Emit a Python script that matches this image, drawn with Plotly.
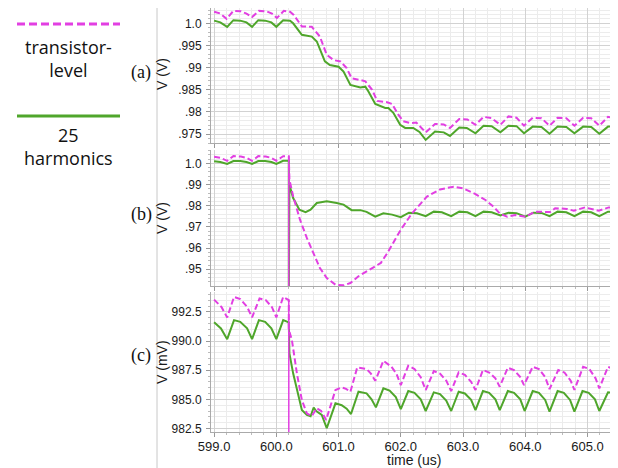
import plotly.graph_objects as go

# ---------------- data ----------------
# time in microseconds
x_ticks = [599.0, 600.0, 601.0, 602.0, 603.0, 604.0, 605.0]
x_labels = ["599.0", "600.0", "601.0", "602.0", "603.0", "604.0", "605.0"]

# panel (a)  V (V)
a_ticks = [0.975, 0.98, 0.985, 0.99, 0.995, 1.0]
a_labels = [".975", ".98", ".985", ".99", ".995", "1.0"]
a_t_green = [599.0, 599.1, 599.21, 599.31, 599.42, 599.52, 599.61, 599.71, 599.82, 599.92,
             600.0, 600.11, 600.22, 600.27, 600.41, 600.57, 600.65, 600.78, 600.86, 601.0,
             601.08, 601.19, 601.35, 601.43, 601.48, 601.59, 601.75, 601.8, 601.88, 601.99,
             602.07, 602.2, 602.3, 602.40, 602.55, 602.69, 602.79, 602.94, 603.06, 603.20,
             603.33, 603.46, 603.60, 603.73, 603.86, 603.98, 604.12, 604.26, 604.39, 604.52,
             604.66, 604.79, 604.93, 605.06, 605.19, 605.33, 605.42]
a_v_green = [1.0006, 1.0002, 0.9992, 1.0007, 1.0006, 1.0002, 0.9992, 1.0007, 1.0006, 1.0002,
             0.9992, 1.0007, 1.0006, 1.0000, 0.9974, 0.9970, 0.9959, 0.9914, 0.9906, 0.9902,
             0.9891, 0.9861, 0.9855, 0.9857, 0.9846, 0.9818, 0.9809, 0.9809, 0.9798, 0.9771,
             0.9764, 0.9764, 0.9755, 0.9737, 0.9756, 0.9754, 0.9746, 0.9765, 0.9764, 0.9752,
             0.9769, 0.9768, 0.9754, 0.9769, 0.9768, 0.9752, 0.9767, 0.9766, 0.9751, 0.9767,
             0.9766, 0.9752, 0.9767, 0.9766, 0.9751, 0.9767, 0.9767]
a_t_mag = [599.0, 599.1, 599.2, 599.31, 599.43, 599.52, 599.61, 599.72, 599.84, 599.93,
           600.01, 600.12, 600.22, 600.28, 600.41, 600.57, 600.70, 600.81, 600.92, 601.03,
           601.13, 601.21, 601.35, 601.43, 601.54, 601.62, 601.78, 601.86, 601.96, 602.04,
           602.15, 602.25, 602.40, 602.55, 602.69, 602.79, 602.94, 603.07, 603.20, 603.33,
           603.46, 603.60, 603.73, 603.86, 603.98, 604.12, 604.26, 604.39, 604.52, 604.66,
           604.79, 604.93, 605.06, 605.19, 605.33, 605.42]
a_v_mag = [1.0026, 1.0022, 1.0010, 1.0028, 1.0027, 1.0022, 1.0014, 1.0028, 1.0027, 1.0022,
           1.0012, 1.0028, 1.0026, 1.0019, 0.9993, 0.9992, 0.9970, 0.9929, 0.9917, 0.9914,
           0.9899, 0.9876, 0.9872, 0.9869, 0.9850, 0.9825, 0.9822, 0.9818, 0.9794, 0.9779,
           0.9775, 0.9776, 0.9754, 0.9773, 0.9772, 0.9764, 0.9784, 0.9783, 0.9771, 0.9789,
           0.9786, 0.9771, 0.9790, 0.9787, 0.9769, 0.9787, 0.9786, 0.9769, 0.9787, 0.9786,
           0.9769, 0.9787, 0.9786, 0.9769, 0.9789, 0.9787]

# panel (b)  V (V)
b_ticks = [0.95, 0.96, 0.97, 0.98, 0.99, 1.0]
b_labels = [".95", ".96", ".97", ".98", ".99", "1.0"]
b_t_green = [599.0, 599.1, 599.21, 599.31, 599.42, 599.52, 599.61, 599.71, 599.82, 599.92,
             600.0, 600.11, 600.2, 600.2, 600.21, 600.27, 600.37, 600.47, 600.55, 600.65,
             600.81, 600.97, 601.08, 601.21, 601.35, 601.45, 601.59, 601.72, 601.86, 602.0,
             602.13, 602.26, 602.40, 602.53, 602.66, 602.81, 602.94, 603.07, 603.20, 603.33,
             603.46, 603.60, 603.73, 603.86, 604.0, 604.13, 604.26, 604.39, 604.52, 604.66,
             604.79, 604.93, 605.06, 605.19, 605.33, 605.42]
b_v_green = [1.0010, 1.0006, 0.9997, 1.0011, 1.0011, 1.0006, 0.9997, 1.0011, 1.0011, 1.0006,
             0.9997, 1.0012, 1.0012, 0.9300, 0.9899, 0.9836, 0.9781, 0.9770, 0.9781, 0.9813,
             0.9821, 0.9813, 0.9805, 0.9779, 0.9779, 0.9771, 0.9748, 0.9764, 0.9758, 0.9746,
             0.9767, 0.9764, 0.9751, 0.9772, 0.9769, 0.9751, 0.9772, 0.9769, 0.9751, 0.9772,
             0.9769, 0.9754, 0.9767, 0.9765, 0.9748, 0.9767, 0.9766, 0.9751, 0.9772, 0.9769,
             0.9751, 0.9772, 0.9769, 0.9751, 0.9772, 0.9772]
b_t_mag = [599.0, 599.1, 599.21, 599.31, 599.43, 599.52, 599.61, 599.71, 599.83, 599.92,
           600.0, 600.11, 600.2, 600.21, 600.27, 600.38, 600.49, 600.60, 600.70,
           600.81, 600.95, 601.08, 601.19, 601.32, 601.45, 601.59, 601.68, 601.78, 601.90,
           602.0, 602.18, 602.42, 602.63, 602.85, 603.0, 603.20, 603.36, 603.49, 603.60,
           603.71, 603.84, 604.0, 604.16, 604.35, 604.40, 604.48, 604.67, 604.78, 604.96,
           605.18, 605.34, 605.42]
b_v_mag = [1.0031, 1.0026, 1.0012, 1.0034, 1.0032, 1.0026, 1.0012, 1.0034, 1.0032, 1.0026,
           1.0012, 1.0034, 1.0034, 0.9923, 0.9845, 0.9734, 0.9648, 0.9569, 0.9506,
           0.9459, 0.9427, 0.9424, 0.9435, 0.9467, 0.9491, 0.9514, 0.9530, 0.9575, 0.9635,
           0.9687, 0.9764, 0.9843, 0.9877, 0.9890, 0.9882, 0.9855, 0.9827, 0.9795, 0.9761,
           0.9748, 0.9756, 0.9748, 0.9772, 0.9772, 0.9770, 0.9788, 0.9785, 0.9776, 0.9792,
           0.9776, 0.9792, 0.9790]
# switching glitch of the transistor-level trace at t = 600.2 us
b_t_glitch = [600.2, 600.2]
b_v_glitch = [1.0034, 0.9300]

# panel (c)  V (mV)
c_ticks = [982.5, 985.0, 987.5, 990.0, 992.5]
c_labels = ["982.5", "985.0", "987.5", "990.0", "992.5"]
c_t_green = [599.0, 599.11, 599.21, 599.32, 599.42, 599.53, 599.61, 599.72, 599.82, 599.92,
             600.0, 600.11, 600.2, 600.21, 600.27, 600.36, 600.41, 600.49, 600.55, 600.60,
             600.64, 600.73, 600.81, 600.95, 601.05, 601.13, 601.20, 601.32, 601.45, 601.53,
             601.60, 601.72, 601.82, 601.92, 602.0, 602.12, 602.22, 602.32, 602.40, 602.53,
             602.63, 602.73, 602.81, 602.93, 603.03, 603.13, 603.20, 603.32, 603.42, 603.52,
             603.59, 603.72, 603.82, 603.92, 603.99, 604.12, 604.22, 604.32, 604.39, 604.52,
             604.62, 604.72, 604.79, 604.92, 605.02, 605.12, 605.19, 605.33, 605.42]
c_v_green = [991.60, 991.08, 990.16, 991.79, 991.64, 991.08, 990.16, 991.79, 991.64, 991.08,
             990.16, 991.79, 991.59, 988.94, 987.23, 985.22, 984.08, 983.66, 983.55, 984.30,
             984.00, 983.66, 982.52, 984.66, 984.50, 984.20, 983.74, 985.65, 985.51, 985.00,
             984.31, 985.94, 985.75, 985.20, 984.17, 985.71, 985.56, 985.00, 984.00, 985.60,
             985.45, 984.90, 984.00, 985.65, 985.50, 984.95, 984.08, 985.71, 985.56, 985.00,
             984.08, 985.71, 985.56, 985.00, 984.00, 985.71, 985.56, 984.95, 983.94, 985.71,
             985.56, 984.95, 983.94, 985.71, 985.56, 985.00, 984.00, 985.60, 985.55]
c_t_mag = [599.0, 599.12, 599.21, 599.32, 599.42, 599.53, 599.61, 599.73, 599.83, 599.93,
           600.0, 600.11, 600.2, 600.2, 600.25, 600.33, 600.41, 600.49, 600.57,
           600.65, 600.72, 600.80, 600.95, 601.05, 601.12, 601.19, 601.30, 601.45, 601.52,
           601.59, 601.72, 601.85, 601.93, 602.0, 602.12, 602.22, 602.32, 602.40, 602.53,
           602.63, 602.73, 602.81, 602.93, 603.03, 603.13, 603.20, 603.32, 603.42, 603.52,
           603.59, 603.72, 603.82, 603.92, 603.98, 604.12, 604.22, 604.32, 604.39, 604.53,
           604.63, 604.73, 604.79, 604.93, 605.03, 605.13, 605.19, 605.33, 605.42]
c_v_mag = [993.55, 992.90, 992.02, 993.78, 993.59, 992.93, 992.02, 993.65, 993.50, 992.90,
           992.02, 993.78, 993.50, 991.00, 990.08, 987.23, 984.94, 983.80, 983.57,
           984.23, 984.00, 983.23, 985.80, 986.03, 985.90, 985.65, 987.74, 987.60, 987.20,
           986.59, 988.30, 987.79, 987.20, 986.22, 987.88, 987.60, 986.90, 985.80, 987.42,
           987.20, 986.60, 985.71, 987.31, 987.10, 986.50, 985.80, 987.51, 987.30, 986.80,
           986.08, 987.71, 987.50, 986.90, 986.22, 987.79, 987.60, 986.90, 985.88, 987.51,
           987.30, 986.60, 985.80, 987.79, 987.60, 986.80, 985.94, 987.79, 987.60]
c_t_glitch = [600.2, 600.2]
c_v_glitch = [993.50, 975.00]

legend_names = ["transistor-<br>level", "25<br>harmonics"]
panel_tags = ["(a)", "(b)", "(c)"]
y_titles = ["V (V)", "V (V)", "V (mV)"]
x_title = "time (us)"

# ---------------- styling / layout ----------------
# The page body has an 8px margin; the figure is sized to fit the 618x468 window.
OFF = 8
W, H = 618 - OFF, 468 - OFF
MAG = "#e23fe2"
GRN = "#4fa62b"


def px(x):
    return (x - OFF) / W


def py(y):
    return 1 - (y - OFF) / H


X_DOM = [px(211), px(613)]
Y_DOMS = [[py(143), 1.0], [py(286), py(150)], [py(432), py(292)]]
Y_RANGES = [[0.9730, 1.00345], [0.9421, 1.0063], [982.2, 994.2]]
Y_MINOR = [0.001, 0.002, 0.5]
Y_TICKS = [(a_ticks, a_labels), (b_ticks, b_labels), (c_ticks, c_labels)]
SERIES = [
    (a_t_green, a_v_green, a_t_mag, a_v_mag, None, None),
    (b_t_green, b_v_green, b_t_mag, b_v_mag, b_t_glitch, b_v_glitch),
    (c_t_green, c_v_green, c_t_mag, c_v_mag, c_t_glitch, c_v_glitch),
]

fig = go.Figure()
for i, (tg, vg, tm, vm, tgl, vgl) in enumerate(SERIES):
    xa = "x" if i == 0 else f"x{i+1}"
    ya = "y" if i == 0 else f"y{i+1}"
    fig.add_trace(go.Scatter(x=tg, y=vg, mode="lines", xaxis=xa, yaxis=ya,
                             line=dict(color=GRN, width=2), showlegend=False))
    if tgl is not None:
        fig.add_trace(go.Scatter(x=tgl, y=vgl, mode="lines", xaxis=xa, yaxis=ya,
                                 line=dict(color=MAG, width=1.5), showlegend=False))
    fig.add_trace(go.Scatter(x=tm, y=vm, mode="lines", xaxis=xa, yaxis=ya,
                             line=dict(color=MAG, width=2, dash="6px,3px"),
                             showlegend=False))

xtickfont = dict(family="Liberation Sans, Arial, sans-serif", size=13, color="#1a1a1a")
ytickfont = dict(family="Liberation Sans, Arial, sans-serif", size=12, color="#1a1a1a")
layout = dict(
    width=W, height=H, margin=dict(l=0, r=0, t=0, b=0, autoexpand=False),
    paper_bgcolor="white", plot_bgcolor="white",
)
for i in range(3):
    xk = "xaxis" if i == 0 else f"xaxis{i+1}"
    yk = "yaxis" if i == 0 else f"yaxis{i+1}"
    ya = "y" if i == 0 else f"y{i+1}"
    xa = "x" if i == 0 else f"x{i+1}"
    layout[xk] = dict(
        domain=X_DOM, anchor=ya, range=[598.95, 605.41],
        tickmode="array", tickvals=x_ticks, ticktext=x_labels,
        showticklabels=(i == 2), tickfont=xtickfont, automargin=False,
        ticks="outside", ticklen=4, tickcolor="#999", ticklabelstandoff=-2,
        showline=True, linecolor="#aaa", linewidth=1,
        showgrid=True, gridcolor="#d2d2d2", gridwidth=1, zeroline=False,
        minor=dict(tickmode="linear", tick0=599, dtick=0.2, showgrid=True,
                   gridcolor="#ebebeb", ticks="outside", ticklen=2, tickcolor="#bbb"),
    )
    tv, tt = Y_TICKS[i]
    layout[yk] = dict(
        domain=Y_DOMS[i], anchor=xa, range=Y_RANGES[i],
        tickmode="array", tickvals=tv, ticktext=tt, tickfont=ytickfont, automargin=False,
        ticks="outside", ticklen=4, tickcolor="#999", ticklabelstandoff=2,
        showline=True, linecolor="#aaa", linewidth=1,
        showgrid=True, gridcolor="#d2d2d2", gridwidth=1, zeroline=False,
        minor=dict(tickmode="linear", tick0=tv[0], dtick=Y_MINOR[i], showgrid=True,
                   gridcolor="#ececec", ticks="outside", ticklen=2, tickcolor="#bbb"),
    )

ann = []
tag_y = [73, 215, 355]
title_y = [74, 218, 362]
for i in range(3):
    ann.append(dict(text=panel_tags[i], x=px(141), y=py(tag_y[i]), xref="paper", yref="paper",
                    showarrow=False, xanchor="center", yanchor="middle",
                    font=dict(family="Liberation Serif, Times New Roman, serif", size=18, color="#111")))
    ann.append(dict(text=y_titles[i], x=px(162), y=py(title_y[i]), xref="paper", yref="paper",
                    showarrow=False, textangle=-90, xanchor="center", yanchor="middle",
                    font=dict(family="Liberation Sans, Arial, sans-serif", size=14, color="#1a1a1a")))
ann.append(dict(text=x_title, x=px(414), y=py(460), xref="paper", yref="paper",
                showarrow=False, xanchor="center", yanchor="middle",
                font=dict(family="Liberation Sans, Arial, sans-serif", size=14, color="#1a1a1a")))
legend_font = dict(family="Open Sans, Noto Sans, sans-serif", size=18, color="#111")
ann.append(dict(text=legend_names[0], x=px(68), y=py(58), xref="paper", yref="paper",
                showarrow=False, xanchor="center", yanchor="middle", font=legend_font))
ann.append(dict(text=legend_names[1], x=px(68), y=py(146), xref="paper", yref="paper",
                showarrow=False, xanchor="center", yanchor="middle", font=legend_font))
layout["annotations"] = ann

layout["shapes"] = [
    dict(type="line", xref="paper", yref="paper", x0=px(157), x1=px(157), y0=0, y1=1,
         line=dict(color="#c8c8c8", width=1)),
    dict(type="line", xref="paper", yref="paper", x0=px(17), x1=px(120), y0=py(24), y1=py(24),
         line=dict(color=MAG, width=3, dash="8px,4px")),
    dict(type="line", xref="paper", yref="paper", x0=px(17), x1=px(120), y0=py(116), y1=py(116),
         line=dict(color=GRN, width=3)),
]

fig.update_layout(**layout)
fig.write_html("out.html")
